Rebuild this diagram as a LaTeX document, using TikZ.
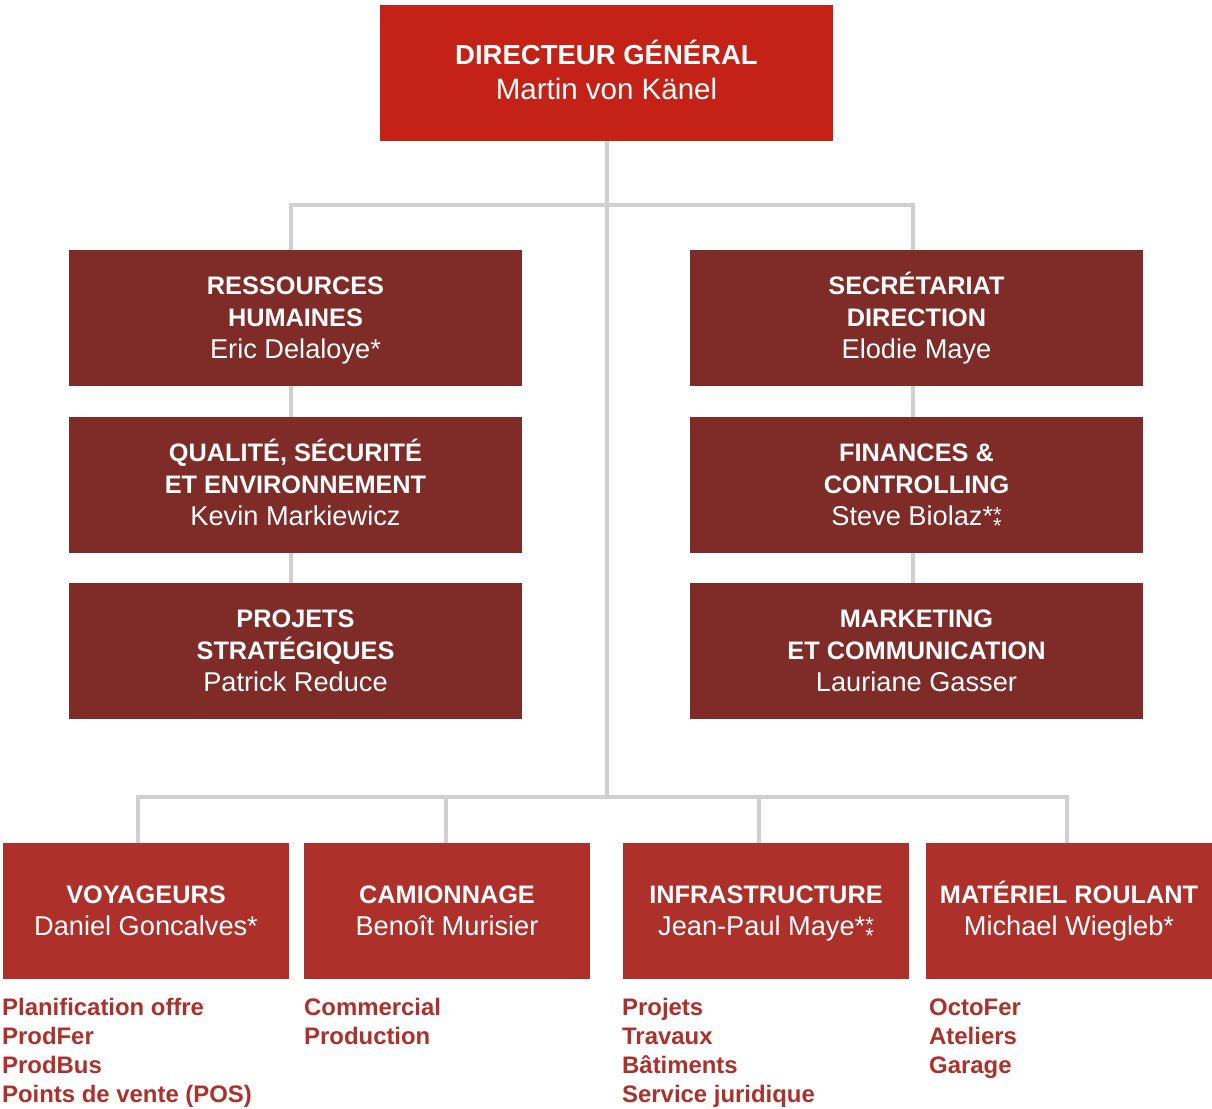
\documentclass[tikz,border=0pt]{standalone}
\usepackage{fontspec}
\setmainfont{Liberation Sans}
\definecolor{topred}{HTML}{C42216}
\definecolor{midred}{HTML}{7F2B27}
\definecolor{botred}{HTML}{AD302B}
\definecolor{conn}{HTML}{D0D0D0}
\newcommand\dblast{*\rlap{\raisebox{0.1em}{\scalebox{0.8}{*}}}\smash{\raisebox{-0.3em}{\scalebox{0.8}{*}}}}
\newcommand\T{\vphantom{É}}
\newcommand\B{\vphantom{y}}
\tikzset{
  conn/.style={draw=conn, line width=4pt},
  box/.style={fill=#1, text=white, inner sep=0pt, align=center,
    minimum height=136pt},
  midbox/.style={box=midred, minimum width=453pt},
  botbox/.style={box=botred, minimum width=286pt},
  hd/.style={font=\fontsize{25.3}{32}\selectfont\bfseries},
  lst/.style={anchor=base west, inner sep=0pt, align=left, text=botred,
    font=\fontsize{23.9}{29}\selectfont\bfseries},
}
\newcommand\nm[1]{{\fontsize{27.2}{32}\mdseries #1\B}}
\begin{document}
\begin{tikzpicture}[x=1pt,y=-1pt]
\useasboundingbox (0,0) rectangle (1212,1108);
% nodes
\node[box=topred, minimum width=453pt, font=\fontsize{29}{35}\selectfont] (dg) at (606.5,73)
  {{\fontsize{27.5}{35}\selectfont\bfseries\T DIRECTEUR GÉNÉRAL}\\{\fontsize{29.5}{35}\selectfont Martin von Känel\B}};
\node[midbox, hd] (rh) at (295.5,318) {\T RESSOURCES\\HUMAINES\\\nm{Eric Delaloye*}};
\node[midbox, hd] (qse) at (295.5,485) {\T QUALITÉ, SÉCURITÉ\\ET ENVIRONNEMENT\\\nm{Kevin Markiewicz}};
\node[midbox, hd] (ps) at (295.5,651) {\T PROJETS\\STRATÉGIQUES\\\nm{Patrick Reduce}};
\node[midbox, hd] (sd) at (916.5,318) {\T SECRÉTARIAT\\DIRECTION\\\nm{Elodie Maye}};
\node[midbox, hd] (fc) at (916.5,485) {\T FINANCES \&\\CONTROLLING\\\nm{Steve Biolaz\dblast}};
\node[midbox, hd] (mc) at (916.5,651) {\T MARKETING\\ET COMMUNICATION\\\nm{Lauriane Gasser}};
\node[botbox, hd] (voy) at (146,911) {\T VOYAGEURS\\\nm{Daniel Goncalves*}};
\node[botbox, hd] (cam) at (447,911) {\T CAMIONNAGE\\\nm{Benoît Murisier}};
\node[botbox, hd] (inf) at (766,911) {\T INFRASTRUCTURE\\\nm{Jean-Paul Maye\dblast}};
\node[botbox, hd] (mat) at (1069,911) {\T MATÉRIEL ROULANT\\\nm{Michael Wiegleb*}};
% lists (anchored at the baseline of their last line)
\node[lst] (lv) at (2,1102) {Planification offre\\ProdFer\\ProdBus\\Points de vente (POS)};
\node[lst] (lc) at (304,1044) {Commercial\\Production};
\node[lst] (li) at (622,1102) {Projets\\Travaux\\Bâtiments\\Service juridique};
\node[lst] (lm) at (929,1073) {OctoFer\\Ateliers\\Garage};
% connector coordinates
\coordinate (tl) at (291,205);
\coordinate (tr) at (913,205);
\coordinate (tm) at (607,205);
\coordinate (bus) at (607,797);
\coordinate (b1) at (138,797);
\coordinate (b2) at (446,797);
\coordinate (b3) at (759,797);
\coordinate (b4) at (1067,797);
% connectors
\draw[conn] (dg.south -| tm) -- (bus);
\draw[conn] (rh.north -| tl) -- (tl) -- (tr) -- (sd.north -| tr);
\draw[conn] (rh.south -| tl) -- (qse.north -| tl);
\draw[conn] (qse.south -| tl) -- (ps.north -| tl);
\draw[conn] (sd.south -| tr) -- (fc.north -| tr);
\draw[conn] (fc.south -| tr) -- (mc.north -| tr);
\draw[conn] (voy.north -| b1) -- (b1) -- (b4) -- (mat.north -| b4);
\draw[conn] (b2) -- (cam.north -| b2);
\draw[conn] (b3) -- (inf.north -| b3);
\end{tikzpicture}
\end{document}
